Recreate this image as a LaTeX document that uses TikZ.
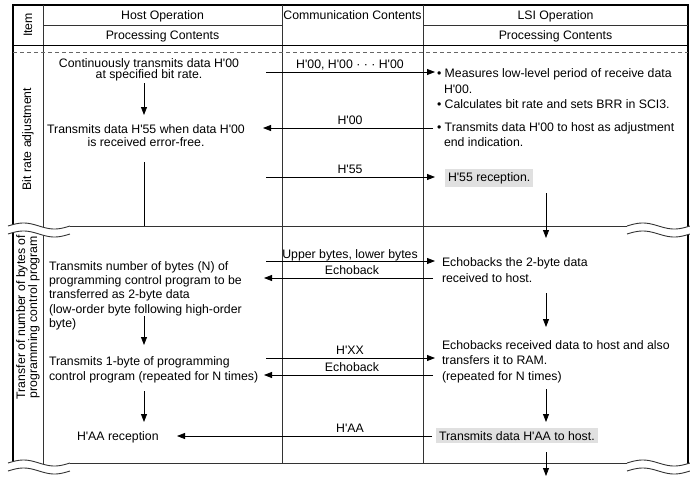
\documentclass[tikz,border=0pt]{standalone}
\usepackage{fontspec}
\setmainfont{Liberation Sans}[Ligatures=TeXOff]
\usetikzlibrary{arrows.meta}
\newcommand\brkmark[3]{%
  \fill[white] plot[domain=0:1,samples=40] ({#1+(#2-#1)*\x},{#3-3*sin(360*\x)}) -- plot[domain=1:0,samples=40] ({#1+(#2-#1)*\x},{#3+8-3*sin(360*\x)}) -- cycle;
  \draw[grd] plot[domain=0:1,samples=40] ({#1+(#2-#1)*\x},{#3-3*sin(360*\x)});
  \draw[grd] plot[domain=0:1,samples=40] ({#1+(#2-#1)*\x},{#3+8-3*sin(360*\x)});
}
\begin{document}
\begin{tikzpicture}[x=1pt,y=-1pt,
  every node/.style={font=\fontsize{12.3}{14}\selectfont, inner sep=0pt, outer sep=0pt},
  lt/.style={anchor=base west},
  ct/.style={anchor=base},
  rt/.style={rotate=90, align=center, font=\fontsize{12.3}{12}\selectfont},
  arr/.style={-{Triangle[length=8pt,width=6pt]}, line width=0.8pt},
  frm/.style={line width=1.3pt},
  grd/.style={line width=0.9pt, draw=black!80},
  hl/.style={fill=black!12, inner xsep=3pt, inner ysep=3pt},
]
\useasboundingbox (0,0) rectangle (690,477);
% ---- table grid
\draw[frm] (13,466) -- (13,5) -- (688,5) -- (688,466);
\draw[grd] (43,5) -- (43,466);
\draw[grd] (282,5) -- (282,463);
\draw[grd] (423,5) -- (423,463);
\draw[grd] (43,25) -- (282,25);
\draw[grd] (423,25) -- (688,25);
\draw[line width=1pt] (13,45) -- (688,45);
\draw[line width=0.9pt, draw=black!60, dash pattern=on 4pt off 3pt] (13,52) -- (688,52);
\draw[grd] (70,226) -- (627,226);
\draw[grd] (70,463) -- (627,463);
% ---- header
\node[ct] (hho) at (162.5,19.5) {Host Operation};
\node[ct] (hhp) at (162.5,39.5) {Processing Contents};
\node[ct] (hcc) at (352.5,19.5) {Communication Contents};
\node[ct] (hlo) at (555.5,19.5) {LSI Operation};
\node[ct] (hlp) at (555.5,39.5) {Processing Contents};
\node[rt] (hit) at (28,25) {Item};
% ---- section 1
\node[rt] (s1) at (28,139) {Bit rate adjustment};
\node[ct] (h1a) at (149,67) {Continuously transmits data H'00};
\node[ct] (h1b) at (149,78.5) {at specified bit rate.};
\node[ct] (h2a) at (146,133) {Transmits data H'55 when data H'00};
\node[ct] (h2b) at (146,146) {is received error-free.};
\node[lt] (l1a) at (437,77) {• Measures low-level period of receive data};
\node[lt] (l1b) at (444,93) {H'00.};
\node[lt] (l1c) at (437,108) {• Calculates bit rate and sets BRR in SCI3.};
\node[lt] (l1d) at (437,131) {• Transmits data H'00 to host as adjustment};
\node[lt] (l1e) at (444,146) {end indication.};
\node[lt,hl] (l1f) at (445,181) {H'55 reception.};
\node[ct] (c1) at (350,68) {H'00, H'00 · · · H'00};
\node[ct] (c2) at (350,124) {H'00};
\node[ct] (c3) at (350,173) {H'55};
\coordinate (a1s) at (266,72); \coordinate (a1e) at (435,72);
\coordinate (a2s) at (433,128); \coordinate (a2e) at (263,128);
\coordinate (a3s) at (266,177); \coordinate (a3e) at (435,177);
\draw[arr] (a1s) -- (a1e);
\draw[arr] (a2s) -- (a2e);
\draw[arr] (a3s) -- (a3e);
\coordinate (v1s) at (144,83); \coordinate (v1e) at (144,115);
\coordinate (v2s) at (144,162); \coordinate (v2e) at (144,226);
\coordinate (v3s) at (546,193); \coordinate (v3e) at (546,238);
\draw[arr] (v1s) -- (v1e);
\draw[line width=0.8pt] (v2s) -- (v2e);
% ---- section 2
\node[rt] (s2) at (28,317) {Transfer of number of bytes of\\programming control program};
\node[lt] (h3a) at (49,270) {Transmits number of bytes (N) of};
\node[lt] (h3b) at (49,284) {programming control program to be};
\node[lt] (h3c) at (49,298.5) {transferred as 2-byte data};
\node[lt] (h3d) at (49,313) {(low-order byte following high-order};
\node[lt] (h3e) at (49,327) {byte)};
\node[lt] (h4a) at (49,365) {Transmits 1-byte of programming};
\node[lt] (h4b) at (49,380) {control program (repeated for N times)};
\node[lt] (h5) at (77,440) {H'AA reception};
\node[lt] (l2a) at (442,266) {Echobacks the 2-byte data};
\node[lt] (l2b) at (442,282) {received to host.};
\node[lt] (l3a) at (442,349) {Echobacks received data to host and also};
\node[lt] (l3b) at (442,364) {transfers it to RAM.};
\node[lt] (l3c) at (442,380) {(repeated for N times)};
\node[lt,hl] (l4) at (436,440) {Transmits data H'AA to host.};
\node[ct] (c4) at (350,258) {Upper bytes, lower bytes};
\node[ct] (c5) at (352,274.5) {Echoback};
\node[ct] (c6) at (350,354) {H'XX};
\node[ct] (c7) at (352,371) {Echoback};
\node[ct] (c8) at (350,432) {H'AA};
\coordinate (a4s) at (266,261); \coordinate (a4e) at (435,261);
\coordinate (a5s) at (433,278); \coordinate (a5e) at (264,278);
\coordinate (a6s) at (266,358); \coordinate (a6e) at (435,358);
\coordinate (a7s) at (433,375); \coordinate (a7e) at (264,375);
\coordinate (a8s) at (432,436); \coordinate (a8e) at (177,436);
\draw[arr] (a4s) -- (a4e);
\draw[arr] (a5s) -- (a5e);
\draw[arr] (a6s) -- (a6e);
\draw[arr] (a7s) -- (a7e);
\draw[arr] (a8s) -- (a8e);
\coordinate (v4s) at (144,316); \coordinate (v4e) at (144,345);
\coordinate (v5s) at (546,293); \coordinate (v5e) at (546,327);
\coordinate (v6s) at (144,391); \coordinate (v6e) at (144,422);
\coordinate (v7s) at (546,389); \coordinate (v7e) at (546,422);
\coordinate (v8s) at (546,452); \coordinate (v8e) at (546,476);
\draw[arr] (v4s) -- (v4e);
\draw[arr] (v5s) -- (v5e);
\draw[arr] (v6s) -- (v6e);
\draw[arr] (v7s) -- (v7e);
% ---- break marks
\brkmark{8}{70}{226}
\brkmark{627}{690}{226}
\brkmark{8}{70}{463}
\brkmark{627}{690}{463}
\draw[arr] (v3s) -- (v3e);
\draw[arr] (v8s) -- (v8e);
\end{tikzpicture}
\end{document}
